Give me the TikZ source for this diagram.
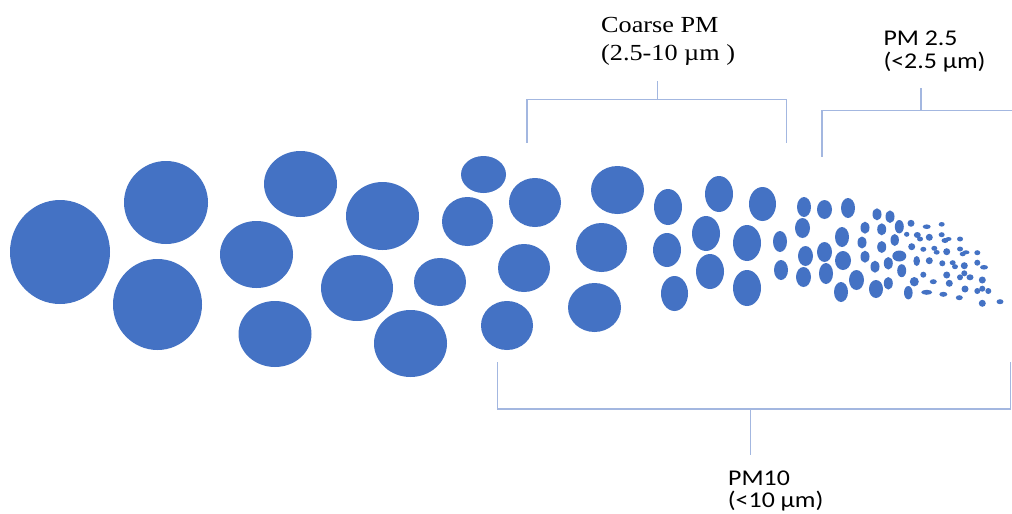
\documentclass[tikz,border=0pt]{standalone}
\usepackage{fontspec}
\newfontfamily\serifA{Liberation Serif}
\newfontfamily\sansA{Carlito}
\definecolor{pblue}{HTML}{4472C4}
\definecolor{bline}{HTML}{A3B7E0}
\tikzset{
  particle/.style={fill=pblue},
  bracket/.style={draw=bline, line width=1.3pt},
  serlabel/.style={anchor=base west, inner sep=0pt, font=\serifA\fontsize{23}{27}\selectfont},
  sanlabel/.style={anchor=base west, inner sep=0pt, font=\sansA\fontsize{22.5}{26}\selectfont},
}
\begin{document}
\begin{tikzpicture}[x=1pt,y=-1pt]
\useasboundingbox (0,0) rectangle (1012,514);
\fill[white] (0,0) rectangle (1012,514);
% particles
\foreach \cx/\cy/\rx/\ry in {
 60/252/50/52, 166/202.5/42/41.5, 157.5/304.5/44.5/45.5,
 256.5/254.5/36.5/33.5, 300.5/184/36.5/33, 275/334/36.5/33,
 382.5/216/36.5/34, 357/288/36/33, 410.5/343.5/36.5/33.5,
 440/282/26/24, 467.5/221.5/25.5/24.5, 483.5/174.5/22.5/18.5,
 535/202.5/26/24.5, 524/268/26/24, 507/325.5/26/24.5,
 617.5/190/26.5/24, 601.5/247.5/25.5/24.5, 594.5/307.5/26.5/24.5,
 668/207/14/18, 667/250/14/17, 674.5/293.5/13.5/17.5,
 719/194/14/18, 706/233.5/14/17.5, 710/271.5/14/17.5,
 762.5/204/13.5/17, 747/243/14/18, 747/288/14/18,
 780/241.5/7/10.5, 781/270/7/10,
 804/207/7/10, 824.5/209.5/7.5/9.5, 848/208/7/10, 802.5/228/7.5/10,
 842/237/7/10, 805.5/256/7.5/10, 824.5/252/7.5/10, 843/260.5/8/9.5,
 803.5/277/7.5/10, 826/273.5/7/10.5, 841/292/7/10, 856.5/280/7.5/10,
 876/289/7/9,
 862/242.5/4.5/6, 865/227.7/4.5/6, 865/256.7/4.5/6, 877/214.3/4.5/6,
 881.7/229.3/4.5/6, 881.7/247/4.5/6, 875/266.7/4.5/6, 890/216.7/4.5/6.3,
 899.3/226.7/4.5/6.7, 894.7/240/4.2/6, 899.3/256/7/5.5, 888.3/263.3/4.5/6.3,
 901.7/270.7/4.5/6.5, 888.3/283.3/4.5/6.3, 914.3/281.7/4.5/4.7,
 908.3/292.7/4.3/6.7, 916.7/261/3.3/5,
 911/223.3/3.5/3.5, 926.7/226.7/4/2.3, 941.7/224.3/3/2.3, 906.7/234.3/2.7/2.5,
 917.3/235/3.5/3, 920/239/3/2.5, 929.3/237.3/3.5/3.5, 941.7/234.7/3/2.5,
 945/240.5/3.5/2.5, 948.5/239/3/2, 960/239/3/2.5, 911.7/246.7/3.5/3.5,
 923.3/249.3/3/2.5, 934.3/248.3/3/2.5, 936.7/252.3/3/2.3, 946.7/251.7/3.5/3.5,
 960/249/3/2.5, 962.7/254/3/2.3, 966/252.3/3.5/2, 977.3/252.7/3/2.5,
 929.3/260.7/3.5/3.5, 942.3/263.3/3/3, 952.7/262.7/3/2.5, 955/266.7/3/2.5,
 964.3/265.7/3.5/3.5, 977.3/262.7/3/3, 984/267.3/4/2.3, 923.3/274.7/3/3,
 933.3/281.7/3.5/2.5, 946.7/275/3.5/3.5, 949.3/283.3/3.5/3.5, 960/277.3/3/3,
 964.3/273.3/3/3, 970/277.3/3.5/3, 982.3/280/3.5/3.5, 926.7/292.3/5.5/2.5,
 943.3/294.3/4/2.5, 959.3/297.7/3.5/2.5, 965/289/3.5/3.5, 977.3/291/3/3,
 982.3/288.7/3/3, 988.3/291/3/3, 982.3/303.3/3.5/3.5, 1000/301.7/3.5/2.5}
 {\fill[particle] (\cx,\cy) ellipse [x radius=\rx, y radius=\ry];}
% bracket coordinates
\coordinate (cL) at (527,142.7);
\coordinate (cLt) at (527,99.3);
\coordinate (cRt) at (786.7,99.3);
\coordinate (cR) at (786.7,142.7);
\coordinate (cM) at (657.3,99.3);
\coordinate (cT) at (657.3,81);
\coordinate (fL) at (822,156.7);
\coordinate (fLt) at (822,110.7);
\coordinate (fRt) at (1012,110.7);
\coordinate (fM) at (921,110.7);
\coordinate (fT) at (921,88.3);
\coordinate (tL) at (497.3,362.3);
\coordinate (tLb) at (497.3,409);
\coordinate (tRb) at (1010.7,409);
\coordinate (tR) at (1010.7,362.3);
\coordinate (tM) at (750.3,409);
\coordinate (tT) at (750.3,455);
\draw[bracket] (cL) -- (cLt) -- (cRt) -- (cR);
\draw[bracket] (cM) -- (cT);
\draw[bracket] (fL) -- (fLt) -- (fRt);
\draw[bracket] (fM) -- (fT);
\draw[bracket] (tL) -- (tLb) -- (tRb) -- (tR);
\draw[bracket] (tM) -- (tT);
% labels
\node[serlabel] (coarseA) at (601,32.7) {\scalebox{1.14}[1]{Coarse PM}};
\node[serlabel] (coarseB) at (601,60) {\scalebox{1.14}[1]{(2.5-10 µm )}};
\node[sanlabel] (fineA) at (883.3,45) {\scalebox{1.15}[1]{PM 2.5}};
\node[sanlabel] (fineB) at (883.3,68.3) {\scalebox{1.15}[1]{(<2.5 µm)}};
\node[sanlabel] (tenA) at (728,485) {\scalebox{1.15}[1]{PM10}};
\node[sanlabel] (tenB) at (727.7,507) {\scalebox{1.15}[1]{(<10 µm)}};
\end{tikzpicture}
\end{document}
